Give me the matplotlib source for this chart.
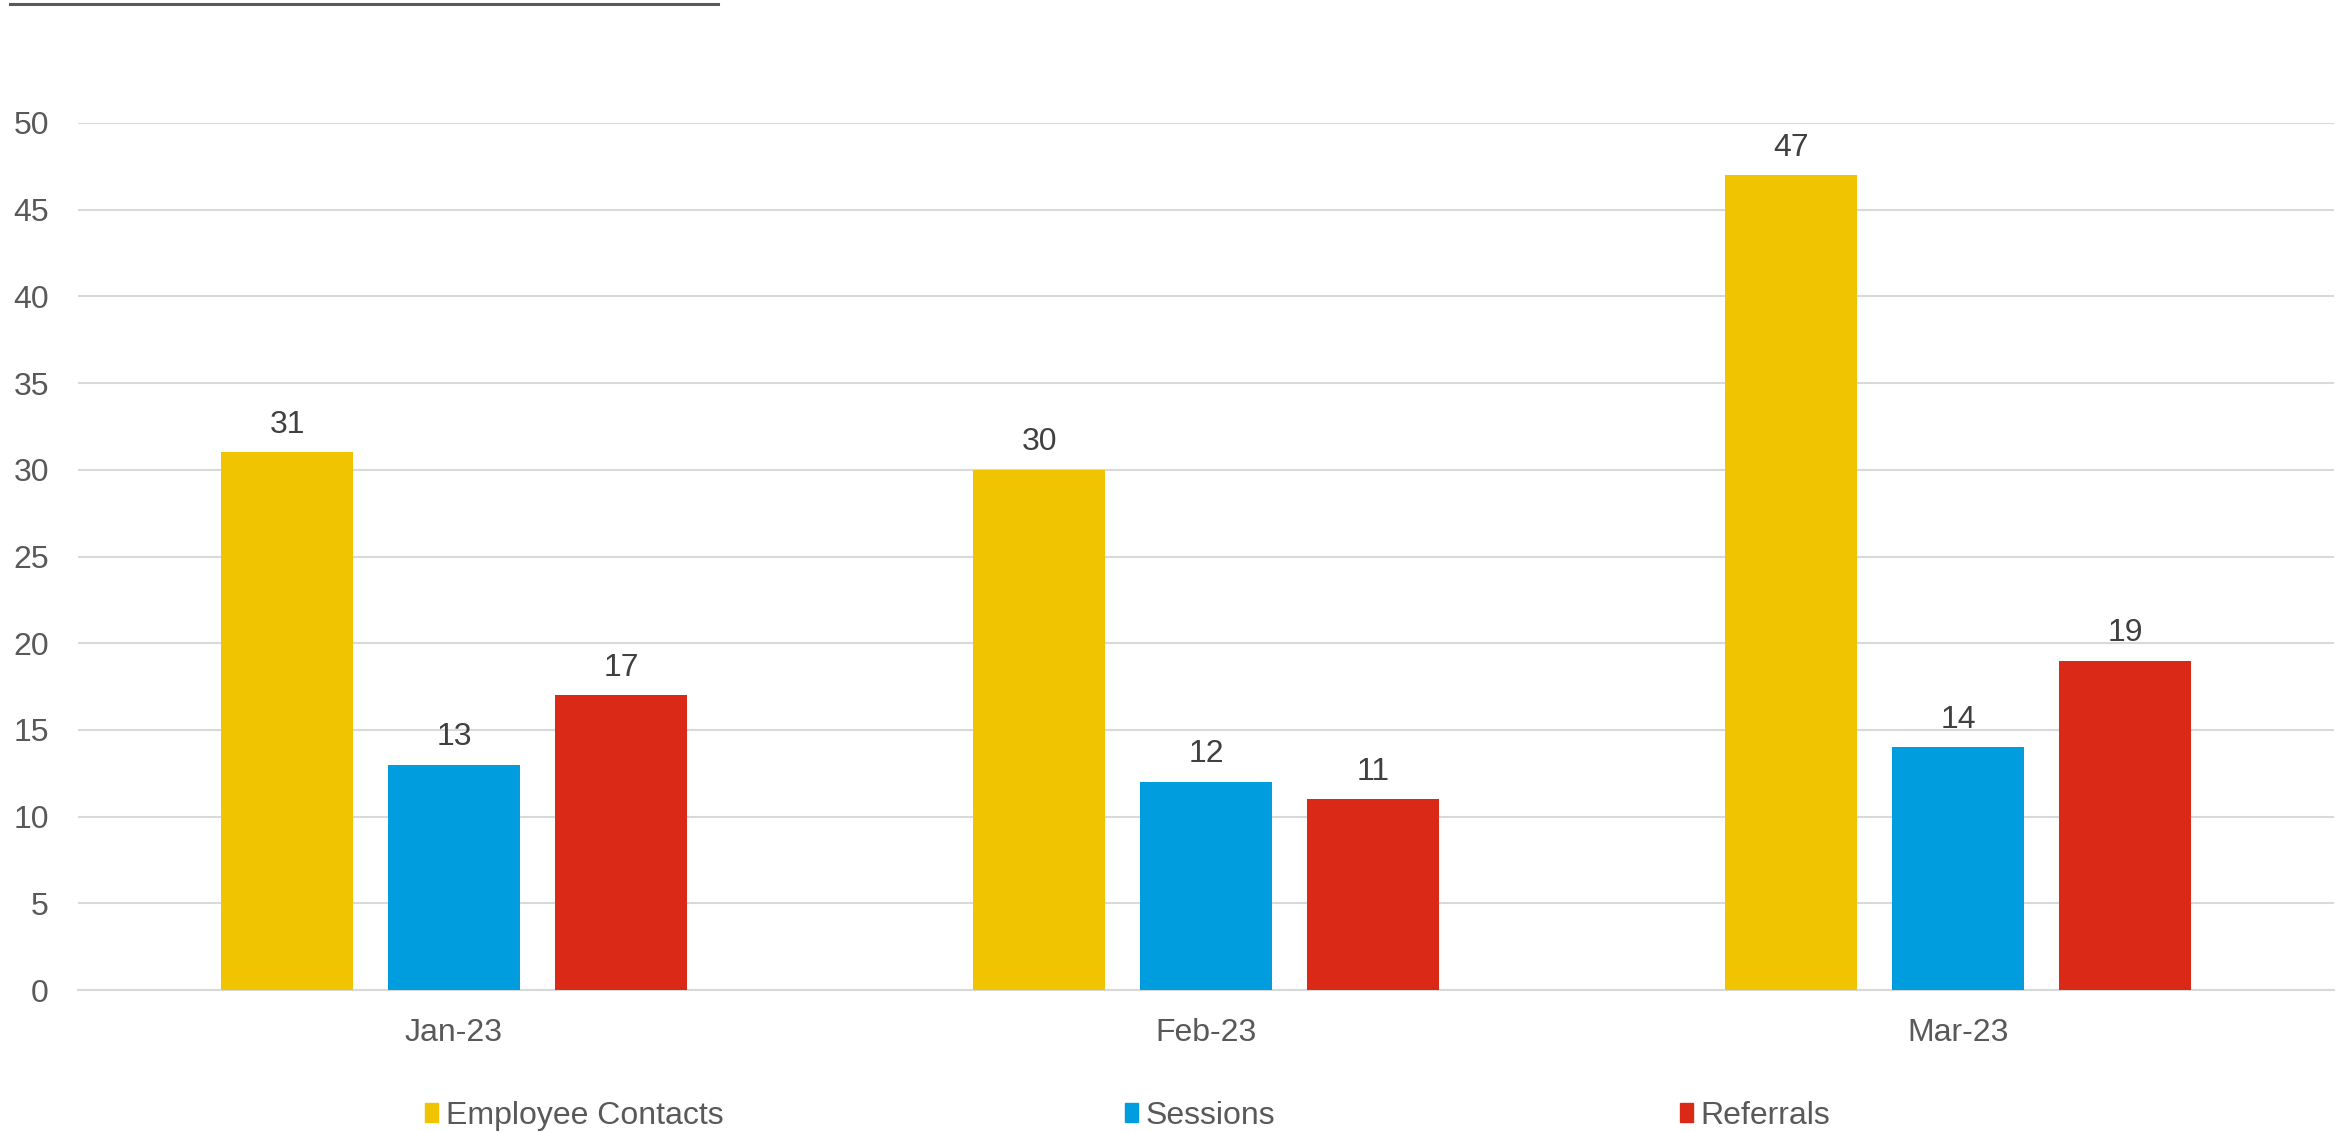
import matplotlib
matplotlib.use("Agg")
import matplotlib.pyplot as plt
from matplotlib.lines import Line2D
from matplotlib.patches import Patch
import numpy as np

# data
months = ["Jan-23", "Feb-23", "Mar-23"]
series = ["Employee Contacts", "Sessions", "Referrals"]
contacts = [31, 30, 47]
sessions = [13, 12, 14]
referrals = [17, 11, 19]
colors = ["#F0C400", "#009DDE", "#DA2916"]

plt.rcParams['font.family'] = ['Liberation Sans', 'DejaVu Sans']
txt = "#595959"
fs = 23

fig = plt.figure(figsize=(23.46, 11.32), dpi=100)
ax = fig.add_axes([78/2346, 1-990/1132, (2334-78)/2346, (990-123)/1132])

x = np.arange(len(months))
w = 0.175
step = 0.222
for i, (vals, c) in enumerate(zip([contacts, sessions, referrals], colors)):
    bars = ax.bar(x + (i-1)*step, vals, width=w, color=c, zorder=3)
    ax.bar_label(bars, padding=9, fontsize=fs, color="#404040")

ax.set_xlim(-0.5, 2.5)
ax.set_ylim(0, 50)
ax.set_yticks(range(0, 51, 5))
ax.set_xticks(x)
ax.set_xticklabels(months)
ax.tick_params(axis='both', length=0, labelsize=fs, labelcolor=txt)
ax.tick_params(axis='y', pad=21)
ax.tick_params(axis='x', pad=20)
ax.grid(axis='y', color="#D9D9D9", linewidth=1.5, zorder=0)
for s in ['top', 'right', 'left']:
    ax.spines[s].set_visible(False)
ax.spines['bottom'].set_color("#D9D9D9")
ax.spines['bottom'].set_linewidth(1.5)

# legend, one entry per box so the uneven spacing can be kept
leg_x = [425, 1125, 1680]
for name, c, lx in zip(series, colors, leg_x):
    fig.legend(handles=[Patch(color=c)], labels=[name], loc='center left',
               bbox_to_anchor=(lx/2346, 1-1116/1132), frameon=False,
               fontsize=fs, labelcolor=txt, handlelength=0.4, handleheight=0.52,
               handletextpad=0.25, borderpad=0, borderaxespad=0)

# thin rule at the top left
fig.add_artist(Line2D([10/2346, 718/2346], [1-4/1132, 1-4/1132],
                      color="#595959", linewidth=2.2))

fig.savefig("out.png", dpi=100)
